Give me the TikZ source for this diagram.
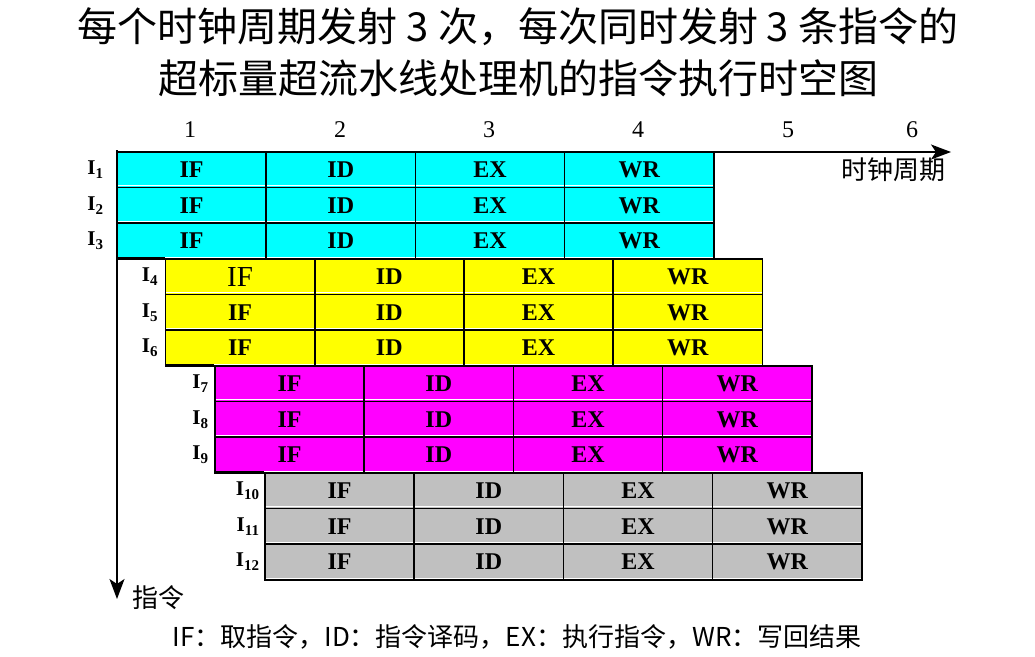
\documentclass[tikz,border=0pt]{standalone}
\usepackage{fontspec}
\setmainfont{Liberation Serif}
\newfontfamily\cjk{Noto Sans CJK SC}
\usetikzlibrary{arrows.meta}
\definecolor{cyn}{HTML}{00FFFF}
\definecolor{yel}{HTML}{FFFF00}
\definecolor{mag}{HTML}{FF00FF}
\definecolor{gry}{HTML}{C0C0C0}
\begin{document}
\begin{tikzpicture}[x=1pt,y=-1pt,
  cell/.style={draw=black,line width=1.6pt,minimum width=149.2pt,minimum height=35.6pt,inner sep=0pt,
    font=\fontsize{24}{24}\selectfont\bfseries},
  thinif/.style={font=\fontsize{29}{29}\selectfont},
  lab/.style={font=\fontsize{21}{21}\selectfont\bfseries,inner sep=0pt,anchor=east},
  num/.style={font=\fontsize{24}{24}\selectfont,inner sep=0pt},
  cjktext/.style={inner sep=0pt,font=\cjk\fontsize{#1}{#1}\selectfont},
  border/.style={line width=1.6pt,black},
  hilite/.style={white,line width=1pt},
  axis/.style={line width=1.6pt,-{Stealth[length=20pt,width=15pt,inset=5pt]}},
]
\useasboundingbox (0,0) rectangle (1035,656);

% title
\node[cjktext=40] (title1) at (518,27) {每个时钟周期发射 3 次，每次同时发射 3 条指令的};
\node[cjktext=40] (title2) at (518,78) {超标量超流水线处理机的指令执行时空图};

% clock numbers
\foreach \v/\xx in {1/190,2/340,3/489,4/638,5/788,6/912}
  \node[num] (n\v) at (\xx,130) {\v};

% cells
\foreach \g/\x/\y/\col/\lo in {0/117/152/cyn/13, 1/165.5/259/yel/7, 2/215/366/mag/6, 3/265/473/gry/5} {
  \foreach \r in {0,1,2} {
    \pgfmathtruncatemacro\n{3*\g+\r+1}
    \foreach \t [count=\k from 0] in {IF,ID,EX,WR} {
      \ifnum\numexpr\n*10+\k\relax=40 \def\cf{thinif}\else\def\cf{}\fi
      \node[cell,fill=\col,\cf] (c\n-\t) at ({\x+149.2*\k+74.6},{\y+35.6*\r+17.8}) {\t};
      \draw[hilite] ([shift={(1.6pt,2.6pt)}]c\n-\t.south west) -- ([shift={(-1.6pt,2.6pt)}]c\n-\t.south east);
    }
    \node[lab] (l\n) at ([xshift=-\lo pt]c\n-IF.west) {I\raisebox{-4pt}{\fontsize{15}{15}\selectfont\n}};
  }
}

% extended top borders of the later groups
\draw[border] (c4-IF.north west) -- (c4-IF.north west -| c1-IF.west);
\draw[border] (c7-IF.north west) -- (c7-IF.north west -| c4-IF.west);
\draw[border] (c10-IF.north west) -- (c10-IF.north west -| c7-IF.west);

% axes
\coordinate (origin) at (117,152);
\coordinate (xend) at (951,152);
\coordinate (yend) at (117,599);
\draw[axis] (origin) -- (xend);
\draw[axis] ([yshift=2pt]origin) -- (yend);

\node[cjktext=26] (xlabel) at (893,170) {时钟周期};
\node[cjktext=26] (ylabel) at (158,598) {指令};

% legend
\node[cjktext=26] (legend) at (517,637) {IF：取指令，ID：指令译码，EX：执行指令，WR：写回结果};
\end{tikzpicture}
\end{document}
